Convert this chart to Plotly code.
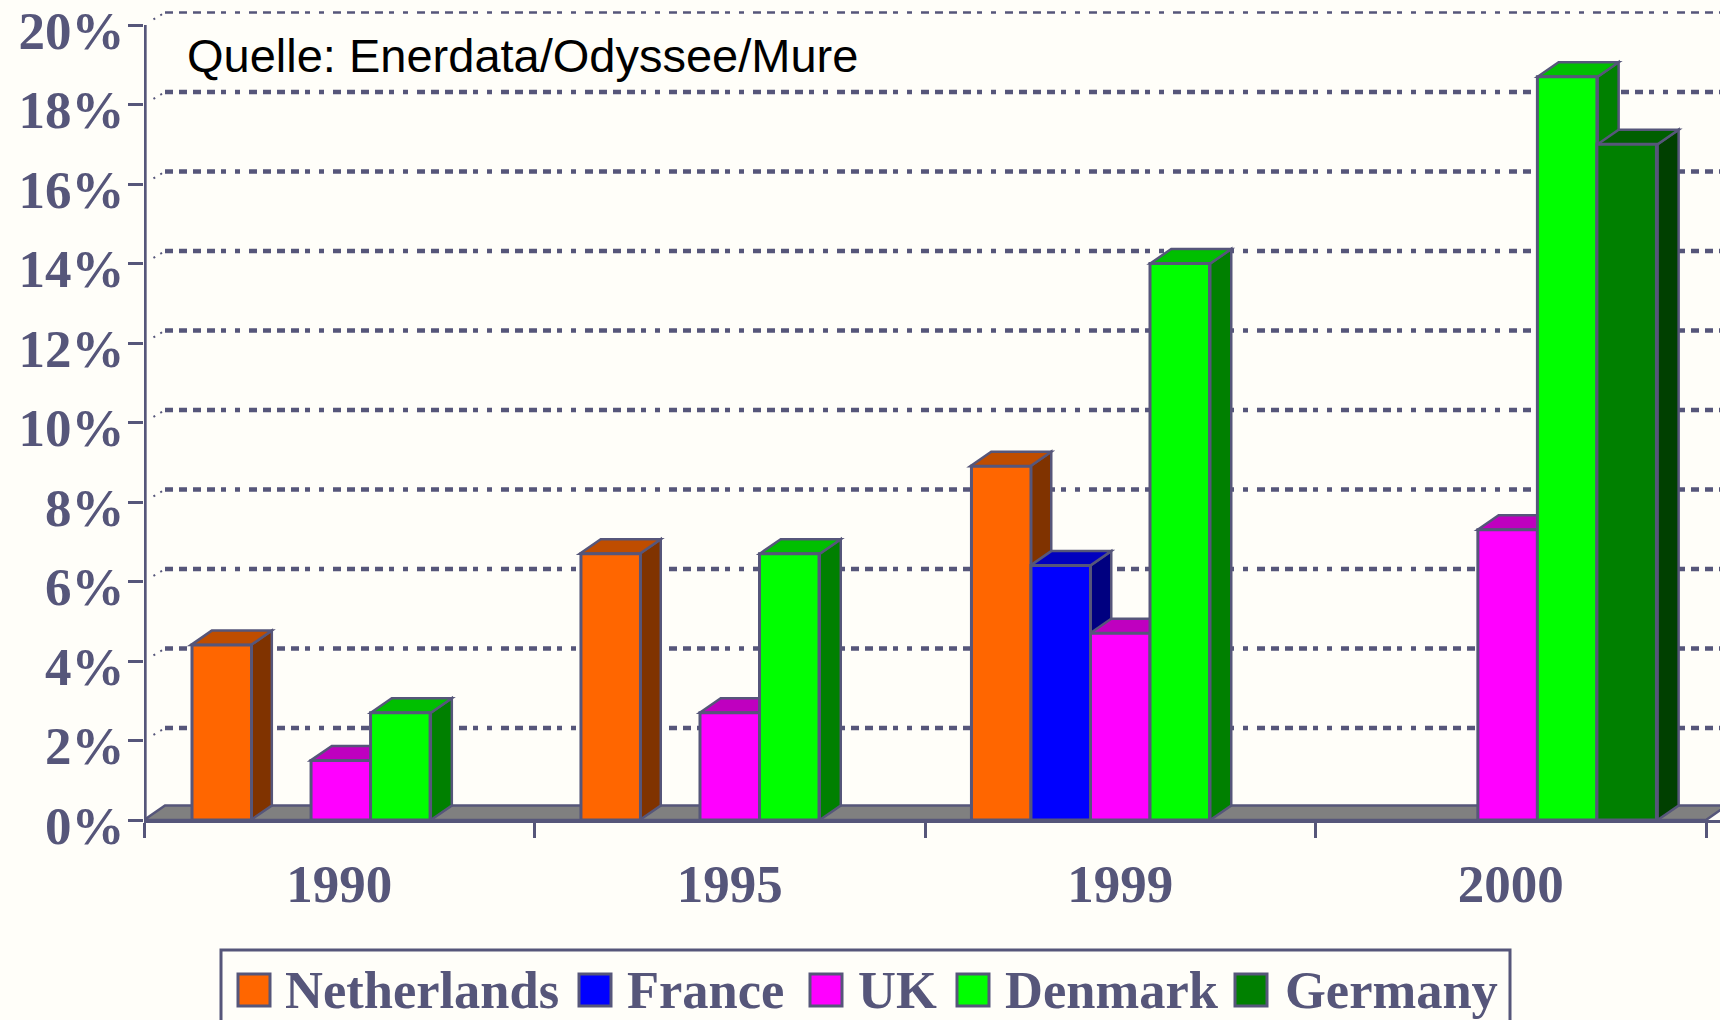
import plotly.graph_objects as go

years = ["1990", "1995", "1999", "2000"]
series_names = ["Netherlands", "France", "UK", "Denmark", "Germany"]
netherlands = [4.4, 6.7, 8.9, None]
france = [None, None, 6.4, None]
uk = [1.5, 2.7, 4.7, 7.3]
denmark = [2.7, 6.7, 14.0, 18.7]
germany = [None, None, None, 17.0]
series_values = [netherlands, france, uk, denmark, germany]
front_colors = ["#FF6600", "#0000FF", "#FF00FF", "#00FF00", "#008000"]
top_colors = ["#BF4D00", "#0000BF", "#BF00BF", "#00BF00", "#005F00"]
side_colors = ["#803300", "#000080", "#800080", "#008000", "#004000"]
y_ticks = list(range(0, 21, 2))
y_labels = [f"{v}%" for v in y_ticks]

INK = "#56567A"
BG = "#FFFEF9"
W, H = 1720, 1020
L, B = 144, 200
UX, UY = 390.5, 39.75          # px per x unit, px per percent
X_MAX = (W - L) / UX
Y_MAX = (H - B) / UY
DX, DY = 21 / UX, 14.5 / UY    # pseudo-3D depth in axis units
GRID_DY = 12.5 / UY            # back wall offset of the grid lines
BAR_W = 60 / UX
DASH = "8px,6px,8px,6px,8px,6px,8px,6px,5px,9px,5px,9px"
bar_centers = [0.504, 1.5, 2.5, 3.492]
label_centers = [0.5, 1.5, 2.5, 3.5]


def px(x):
    return (x - L) / (W - L)


def py(y):
    return ((H - B) - y) / (H - B)


def poly(pts, fill):
    d = "M" + " L".join(f"{a},{b}" for a, b in pts) + " Z"
    return dict(type="path", path=d, xref="x", yref="y", layer="below",
                fillcolor=fill, line=dict(color=INK, width=2.5))


shapes = []
# back wall grid
for v in y_ticks[1:]:
    w = 2.5 if v == 20 else 4.5
    shapes.append(dict(type="line", xref="x", yref="y", layer="below",
                       x0=DX, x1=X_MAX, y0=v + GRID_DY, y1=v + GRID_DY,
                       line=dict(color=INK, width=w, dash=DASH)))
    shapes.append(dict(type="line", xref="x", yref="y", layer="below",
                       x0=DX * 0.45, x1=DX, y0=v + GRID_DY * 0.45, y1=v + GRID_DY,
                       line=dict(color=INK, width=2, dash="2px,6px")))
# floor
shapes.append(poly([(0, 0), (DX, DY), (4 + DX, DY), (4, 0)], "#808080"))
# bar depth faces, in drawing order
for g in range(len(years)):
    for s, vals in enumerate(series_values):
        v = vals[g]
        if v is None:
            continue
        x0 = bar_centers[g] + (s - 2.5) * BAR_W
        x1 = x0 + BAR_W
        shapes.append(poly([(x1, 0), (x1 + DX, DY), (x1 + DX, v + DY), (x1, v)], side_colors[s]))
        shapes.append(poly([(x0, v), (x0 + DX, v + DY), (x1 + DX, v + DY), (x1, v)], top_colors[s]))

# y axis line
shapes.append(dict(type="line", xref="x", yref="y", x0=0.003, x1=0.003, y0=0, y1=20,
                   line=dict(color=INK, width=3)))

fig = go.Figure()
for name, vals, col in zip(series_names, series_values, front_colors):
    fig.add_trace(go.Bar(x=bar_centers, y=vals, name=name, marker=dict(color=col, line=dict(color=INK, width=3))))

# legend drawn by hand: swatch, label positions in page pixels
legend_swatch_x = [238, 579, 810, 957, 1235]
legend_text_x = [284, 626, 857, 1004, 1284]
annotations = []
shapes.append(dict(type="rect", xref="paper", yref="paper", x0=px(221), x1=px(1510), y0=py(950), y1=py(1040),
                   line=dict(color=INK, width=3), fillcolor="rgba(0,0,0,0)"))
for name, col, sx, tx in zip(series_names, front_colors, legend_swatch_x, legend_text_x):
    shapes.append(dict(type="rect", xref="paper", yref="paper", x0=px(sx), x1=px(sx + 32), y0=py(1006), y1=py(974),
                       fillcolor=col, line=dict(color=INK, width=3)))
    annotations.append(dict(text=name, xref="paper", yref="paper", x=px(tx), y=py(990), xanchor="left", yanchor="middle",
                            showarrow=False, borderpad=0,
                            font=dict(family="Liberation Serif", size=52.5, color=INK, weight="bold")))
annotations.append(dict(text="Quelle: Enerdata/Odyssee/Mure", xref="paper", yref="paper", x=px(186), y=py(56),
                        xanchor="left", yanchor="middle", showarrow=False, borderpad=0,
                        font=dict(family="Liberation Sans", size=47, color="#000000")))

tick_font = dict(family="Liberation Serif", size=53, color=INK, weight="bold")
fig.update_layout(
    width=W, height=H, margin=dict(l=L, r=0, t=0, b=B, pad=0),
    paper_bgcolor=BG, plot_bgcolor=BG, showlegend=False,
    barmode="group", bargap=1 - 5 * BAR_W, bargroupgap=0,
    shapes=shapes, annotations=annotations,
    xaxis=dict(range=[0, X_MAX], tickmode="array", tickvals=label_centers, ticktext=years,
               ticks="", tickfont=tick_font, showgrid=False, zeroline=False, showline=True,
               linecolor=INK, linewidth=3, ticklabelstandoff=15,
               minor=dict(tickmode="array", tickvals=[0, 1, 2, 3, 4], ticks="outside", ticklen=15,
                          tickwidth=2.5, tickcolor=INK, showgrid=False)),
    yaxis=dict(range=[0, Y_MAX], tickmode="array", tickvals=y_ticks, ticktext=y_labels,
               ticks="outside", ticklen=15, tickwidth=3, tickcolor=INK, tickfont=tick_font,
               showgrid=False, zeroline=False, showline=False, ticklabelstandoff=-7, ticklabelshift=5),
    font=dict(family="Liberation Serif"),
)
fig.write_html("out.html", config=dict(displayModeBar=False),
               post_script="document.body.style.margin='0';document.body.style.overflow='hidden';")
